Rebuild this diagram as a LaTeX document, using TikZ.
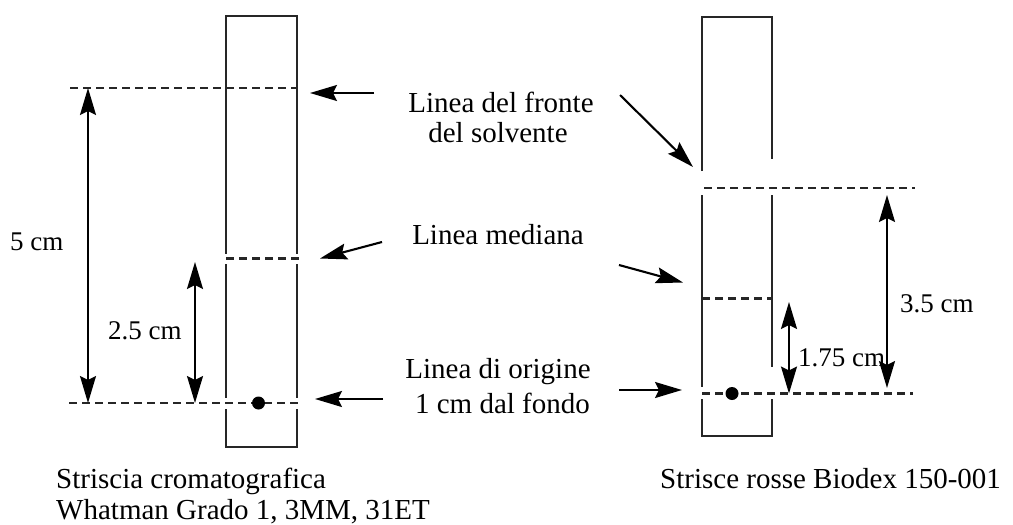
\documentclass[tikz,border=0pt]{standalone}
\usepackage{fontspec}
\setmainfont{Liberation Serif}
\usetikzlibrary{arrows.meta}
\begin{document}
\begin{tikzpicture}[x=1pt,y=-1pt,
  ln/.style={line width=2.3pt, draw=black!85},
  dsh/.style={line width=2.3pt, draw=black!85, dash pattern=on 8pt off 5pt},
  arr/.style={line width=2.1pt, -{Stealth[length=27pt,width=16pt,inset=4pt]}},
  darr/.style={line width=2.1pt, {Stealth[length=27pt,width=16pt,inset=4pt]}-{Stealth[length=27pt,width=16pt,inset=4pt]}},
  lbl/.style={font=\fontsize{29}{30}\selectfont, inner sep=0pt, anchor=base},
  captxt/.style={font=\fontsize{29}{30}\selectfont, inner sep=0pt, anchor=base west},
  dimtxt/.style={font=\fontsize{27}{28}\selectfont, inner sep=0pt, anchor=base west}]
\useasboundingbox (0,0) rectangle (1013,525);

% ---------- left strip ----------
\draw[ln] (226,253.5) -- (226,16) -- (297,16) -- (297,253.5);
\draw[ln] (226,264) -- (226,398) (297,264) -- (297,398);
\draw[ln] (226,409) -- (226,447) -- (297,447) -- (297,409);
\coordinate (LtopA) at (70,88);   \coordinate (LtopB) at (297,88);
\coordinate (LmidA) at (226,258.5); \coordinate (LmidB) at (300,258.5);
\coordinate (LbotA) at (69,403);  \coordinate (LbotB) at (300,403);
\draw[dsh] (LtopA) -- (LtopB);
\draw[dsh] (LmidA) -- (LmidB);
\draw[dsh] (LbotA) -- (LbotB);
\fill (258.5,403) circle (6.5);

% dimension arrows left
\coordinate (d5a) at (88,88);   \coordinate (d5b) at (88,403);
\coordinate (d25a) at (195,262); \coordinate (d25b) at (195,403);
\draw[darr] (d5a) -- (d5b);
\draw[darr] (d25a) -- (d25b);
\node[dimtxt] (l5) at (10,250) {5 cm};
\node[dimtxt] (l25) at (108,339) {2.5 cm};

% ---------- right strip ----------
\draw[ln] (702,171) -- (702,17) -- (772,17) -- (772,159);
\draw[ln] (702,195) -- (702,387) (772,195) -- (772,367);
\draw[ln] (702,399) -- (702,436) -- (772,436) -- (772,399);
\coordinate (RtopA) at (704,188); \coordinate (RtopB) at (915,188);
\coordinate (RmidA) at (702,298.5); \coordinate (RmidB) at (772,298.5);
\coordinate (RbotA) at (702,393.5); \coordinate (RbotB) at (913,393.5);
\draw[dsh] (RtopA) -- (RtopB);
\draw[dsh] (RmidA) -- (RmidB);
\draw[dsh] (RbotA) -- (RbotB);
\fill (732,393.5) circle (6.5);

% dimension arrows right
\coordinate (d35a) at (887,195); \coordinate (d35b) at (887,388);
\coordinate (d175a) at (789,302); \coordinate (d175b) at (789,393.5);
\draw[darr] (d35a) -- (d35b);
\draw[darr] (d175a) -- (d175b);
\node[dimtxt] (l35) at (900,312) {3.5 cm};
\node[dimtxt] (l175) at (798,366) {1.75 cm};

% ---------- central labels ----------
\node[lbl] (lf1) at (501,112) {Linea del fronte};
\node[lbl] (lf2) at (498,142) {del solvente};
\node[lbl] (lm)  at (498,244) {Linea mediana};
\node[lbl] (lo1) at (498,378) {Linea di origine};
\node[lbl] (lo2) at (502.5,413) {1 cm dal fondo};

% pointer arrows
\coordinate (pa1) at (374,93);  \coordinate (pb1) at (310,93);
\coordinate (pa2) at (382,242); \coordinate (pb2) at (320,258.5);
\coordinate (pa3) at (383,399); \coordinate (pb3) at (315,399);
\coordinate (qa1) at (620,95);  \coordinate (qb1) at (693,167);
\coordinate (qa2) at (619,265); \coordinate (qb2) at (683,282.5);
\coordinate (qa3) at (619,390); \coordinate (qb3) at (682,390);
\draw[arr] (pa1) -- (pb1);
\draw[arr] (pa2) -- (pb2);
\draw[arr] (pa3) -- (pb3);
\draw[arr] (qa1) -- (qb1);
\draw[arr] (qa2) -- (qb2);
\draw[arr] (qa3) -- (qb3);

% ---------- captions ----------
\node[captxt] (c1a) at (56,488) {Striscia cromatografica};
\node[captxt] (c1b) at (56,519) {Whatman Grado 1, 3MM, 31ET};
\node[captxt] (c2)  at (660,488) {Strisce rosse Biodex 150-001};
\end{tikzpicture}
\end{document}
